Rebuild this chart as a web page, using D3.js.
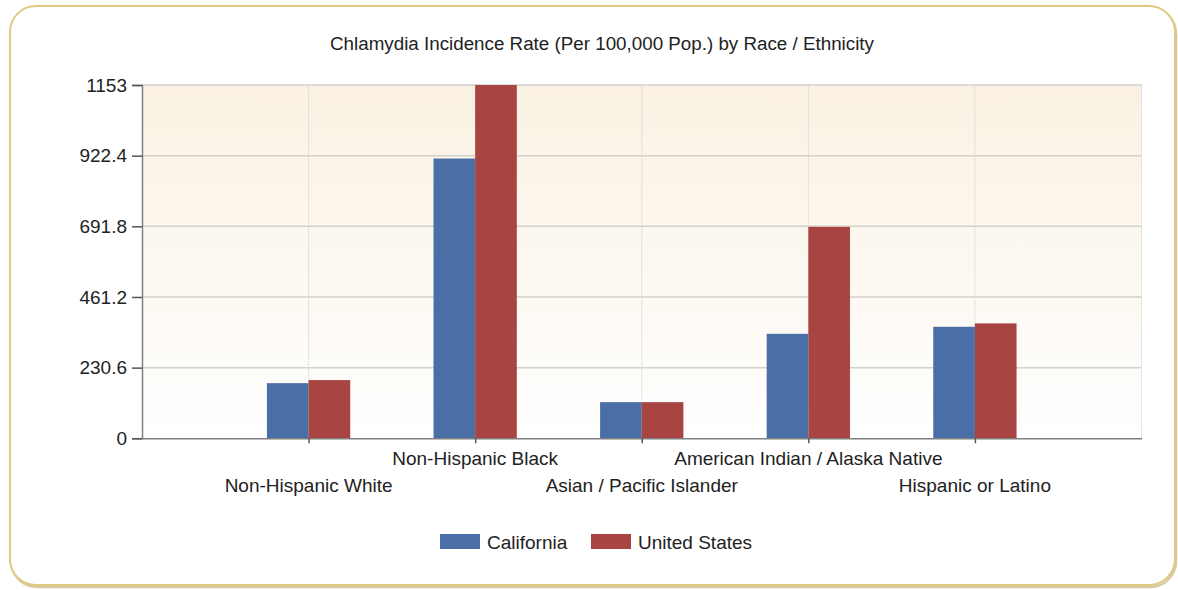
<!DOCTYPE html>
<html>
<head>
<meta charset="utf-8">
<script src="https://cdn.jsdelivr.net/npm/d3@7"></script>
<style>
  html, body { margin: 0; padding: 0; background: #ffffff; }
  svg text { font-family: "Liberation Sans", Arial, sans-serif; fill: #222; }
</style>
</head>
<body>
<svg id="chart" width="1178" height="590"></svg>
<script>
const categories = ["Non-Hispanic White", "Non-Hispanic Black", "Asian / Pacific Islander", "American Indian / Alaska Native", "Hispanic or Latino"];
const seriesNames = ["California", "United States"];
const californiaValues = [180, 913, 118, 341, 364];
const usValues = [190, 1153, 118, 690, 375];
const yTicks = [0, 230.6, 461.2, 691.8, 922.4, 1153];
const titleText = "Chlamydia Incidence Rate (Per 100,000 Pop.) by Race / Ethnicity";
const colors = ["#4a6ea6", "#a84542"];

(function () {
const seriesValues = [californiaValues, usValues];
const svg = d3.select("#chart");
const defs = svg.append("defs");

// Frame
svg.append("rect").attr("x", 11).attr("y", 8).attr("width", 1165).attr("height", 579)
  .attr("rx", 26).attr("fill", "none").attr("stroke", "#c9b27e").attr("stroke-width", 2.5).attr("opacity", 0.7);
svg.append("rect").attr("x", 10).attr("y", 6).attr("width", 1165).attr("height", 579)
  .attr("rx", 26).attr("fill", "#ffffff").attr("stroke", "#dfc97f").attr("stroke-width", 2);

const pLeft = 142, pRight = 1141.5, pTop = 85, pBottom = 438.3;

const grad = defs.append("linearGradient").attr("id", "bg").attr("x1", 0).attr("y1", 0).attr("x2", 0).attr("y2", 1);
grad.append("stop").attr("offset", "0%").attr("stop-color", "#faf1e2");
grad.append("stop").attr("offset", "100%").attr("stop-color", "#ffffff");

const x = d3.scalePoint().domain(categories).range([pLeft, pRight]).padding(1);
const step = x.step();
const xSub = d3.scaleBand().domain(seriesNames).range([-step / 4, step / 4]).padding(0);
const y = d3.scaleLinear().domain([0, 1153]).range([pBottom, pTop]);

// Plot background
svg.append("rect").attr("x", pLeft).attr("y", pTop).attr("width", pRight - pLeft).attr("height", pBottom - pTop)
  .attr("fill", "url(#bg)");

// Horizontal gridlines
svg.append("g").selectAll("line").data(yTicks.filter(d => d > 0)).join("line")
  .attr("x1", pLeft).attr("x2", pRight)
  .attr("y1", d => y(d)).attr("y2", d => y(d))
  .attr("stroke", "#d3d1cc").attr("stroke-width", 1.5);

// Vertical gridlines
svg.append("g").selectAll("line").data(categories).join("line")
  .attr("x1", d => x(d)).attr("x2", d => x(d))
  .attr("y1", pTop).attr("y2", pBottom)
  .attr("stroke", "#cfcdc8").attr("stroke-width", 1).attr("stroke-dasharray", "1,1");
svg.append("line").attr("x1", pRight).attr("x2", pRight).attr("y1", pTop).attr("y2", pBottom)
  .attr("stroke", "#cfcdc8").attr("stroke-width", 1).attr("stroke-dasharray", "1,1");

// Bars
const groups = svg.append("g").selectAll("g").data(categories).join("g")
  .attr("transform", d => `translate(${x(d)},0)`);
groups.selectAll("rect").data((d, i) => seriesNames.map((s, j) => ({ s, v: seriesValues[j][i], j })))
  .join("rect")
  .attr("x", d => xSub(d.s))
  .attr("width", xSub.bandwidth())
  .attr("y", d => y(d.v))
  .attr("height", d => y(0) - y(d.v))
  .attr("fill", d => colors[d.j]);

// Y axis
const yAxis = d3.axisLeft(y).tickValues(yTicks).tickSize(10).tickPadding(5)
  .tickFormat(d => String(d));
const yg = svg.append("g").attr("transform", `translate(${pLeft},0)`).call(yAxis);
yg.select(".domain").attr("stroke", "#7f7f7f").attr("stroke-width", 1.5);
yg.selectAll(".tick line").attr("stroke", "#555").attr("stroke-width", 1.5);
yg.selectAll(".tick text").style("font-size", "19px").attr("fill", "#222");

// X axis
const xAxis = d3.axisBottom(x).tickSize(5).tickSizeOuter(0).tickFormat("");
const xg = svg.append("g").attr("transform", `translate(0,${pBottom})`).call(xAxis);
xg.select(".domain").attr("stroke", "#7f7f7f").attr("stroke-width", 1.5);
xg.selectAll(".tick line").attr("stroke", "#555").attr("stroke-width", 1.5);

// Staggered category labels
svg.append("g").selectAll("text").data(categories).join("text")
  .attr("x", d => x(d))
  .attr("y", (d, i) => i % 2 === 0 ? 491.5 : 465)
  .attr("text-anchor", "middle")
  .style("font-size", "19px")
  .text(d => d);

// Title
svg.append("text").attr("x", 602).attr("y", 50).attr("text-anchor", "middle")
  .style("font-size", "18.8px").text(titleText);

// Legend
const legendX = [440, 591];
const legend = svg.append("g").selectAll("g").data(seriesNames).join("g")
  .attr("transform", (d, i) => `translate(${legendX[i]},534)`);
legend.append("rect").attr("width", 40).attr("height", 15).attr("fill", (d, i) => colors[i]);
legend.append("text").attr("x", 47).attr("y", 14.5).style("font-size", "19px").text(d => d);
})();
</script>
</body>
</html>
